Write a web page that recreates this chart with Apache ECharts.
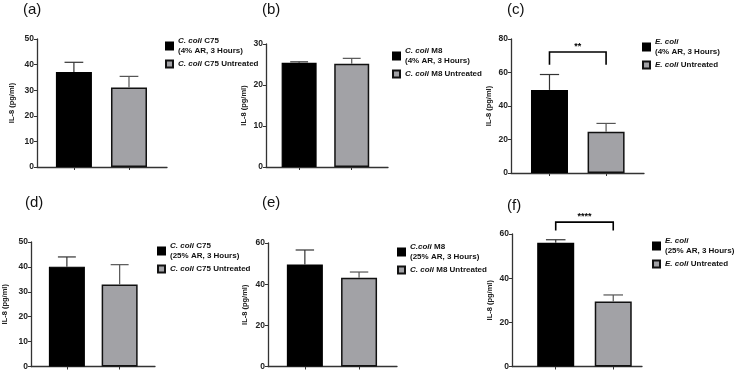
<!DOCTYPE html>
<html>
<head>
<meta charset="utf-8">
<script src="https://cdn.jsdelivr.net/npm/echarts@6/dist/echarts.min.js"></script>
<style>
  html, body { margin: 0; padding: 0; background: #fff; }
  #chart { width: 735px; height: 371px; }
</style>
</head>
<body>
<div id="chart"></div>
<script>
// values, one entry per panel (a)..(f)
var panelTags = ['(a)', '(b)', '(c)', '(d)', '(e)', '(f)'];
var treatedNames = [
    'C. coli C75\n(4% AR, 3 Hours)',
    'C. coli M8\n(4% AR, 3 Hours)',
    'E. coli\n(4% AR, 3 Hours)',
    'C. coli C75\n(25% AR, 3 Hours)',
    'C.coli M8\n(25% AR, 3 Hours)',
    'E. coli\n(25% AR, 3 Hours)'
];
var untreatedNames = [
    'C. coli C75 Untreated',
    'C. coli M8 Untreated',
    'E. coli Untreated',
    'C. coli C75 Untreated',
    'C. coli M8 Untreated',
    'E. coli Untreated'
];
var treatedMean = [37.1, 25.4, 49.6, 40.1, 49.6, 56.0];
var treatedErr = [3.8, 0.25, 9.2, 3.9, 7.0, 1.4];
var untreatedMean = [31.1, 25.2, 24.6, 32.9, 43.1, 29.4];
var untreatedErr = [4.3, 1.3, 5.0, 8.0, 2.8, 3.0];
var yMax = [50, 30, 80, 50, 60, 60];
var yStep = [10, 10, 20, 10, 20, 20];
var sigMarks = ['', '', '**', '', '', '****'];
var sigTop = [0, 0, 72.2, 0, 0, 65.4];
var sigLeg = [0, 0, 64.6, 0, 0, 61.6];

// layout of each panel, in pixels
var panels = [
    {left: 37,  top: 39,  width: 130, height: 128, xMin: 0.33, xMax: 2.69, barW: 36, gap: 21, lgLeft: 165, lgTop: 36,  tagX: 23,  tagY: 2},
    {left: 266, top: 44,  width: 122, height: 123, xMin: 0.37, xMax: 2.69, barW: 35, gap: 18, lgLeft: 392, lgTop: 46,  tagX: 262, tagY: 2},
    {left: 511, top: 39,  width: 133, height: 134, xMin: 0.32, xMax: 2.67, barW: 37, gap: 18, lgLeft: 642, lgTop: 37,  tagX: 507, tagY: 2},
    {left: 30,  top: 242, width: 125, height: 125, xMin: 0.32, xMax: 2.67, barW: 36, gap: 22, lgLeft: 157, lgTop: 241, tagX: 25,  tagY: 195},
    {left: 268, top: 243, width: 129, height: 125, xMin: 0.32, xMax: 2.70, barW: 36, gap: 19, lgLeft: 397, lgTop: 242, tagX: 262, tagY: 195},
    {left: 512, top: 234, width: 130, height: 134, xMin: 0.24, xMax: 2.50, barW: 37, gap: 18, lgLeft: 652, lgTop: 236, tagX: 507, tagY: 198}
];

var FONT = '"Liberation Sans", Arial, sans-serif';
var BLACK_BAR = '#000000';
var GRAY_BAR = '#a2a2a6';

function errorBarItem(params, api) {
    var x = api.value(0), m = api.value(1), e = api.value(2);
    var base = api.coord([x, m]);
    var top = api.coord([x, m + e]);
    var half = api.size([1, 0])[0] * 0.17;
    var style = {stroke: api.value(3) ? '#555' : '#333', lineWidth: 1.2};
    return {
        type: 'group',
        children: [
            {type: 'line', shape: {x1: base[0], y1: base[1], x2: top[0], y2: top[1]}, style: style},
            {type: 'line', shape: {x1: top[0] - half, y1: top[1], x2: top[0] + half, y2: top[1]}, style: style}
        ]
    };
}

function bracketItem(params, api) {
    var p1 = api.coord([api.value(0), api.value(3)]);
    var p2 = api.coord([api.value(0), api.value(2)]);
    var p3 = api.coord([api.value(1), api.value(2)]);
    var p4 = api.coord([api.value(1), api.value(3)]);
    return {
        type: 'group',
        children: [
            {type: 'polyline', shape: {points: [p1, p2, p3, p4]},
             style: {stroke: '#000', lineWidth: 1.6, fill: null}},
            {type: 'text', x: (p2[0] + p3[0]) / 2, y: p2[1] - 1,
             style: {text: sigMarks[api.value(4)],
                     font: 'bold 9px ' + FONT, fill: '#000', align: 'center', verticalAlign: 'bottom'}}
        ]
    };
}

function legendLabel(name) {
    return name.replace(/^(C\. coli|C\.coli|E\. coli)/, '{i|$1}');
}

var grids = [], xAxes = [], yAxes = [], legends = [], series = [], graphics = [];

for (var i = 0; i < panels.length; i++) {
    var p = panels[i];
    grids.push({left: p.left, top: p.top, width: p.width, height: p.height});
    xAxes.push({
        type: 'value', gridIndex: i, min: p.xMin, max: p.xMax,
        splitLine: {show: false},
        axisLine: {show: true, lineStyle: {color: '#333', width: 1.3}},
        axisTick: {show: true, customValues: [1, 2], length: 3, lineStyle: {color: '#333'}},
        axisLabel: {show: false}
    });
    yAxes.push({
        type: 'value', gridIndex: i, min: 0, max: yMax[i], interval: yStep[i],
        name: 'IL-8 (pg/ml)', nameLocation: 'middle', nameGap: p.gap,
        nameTextStyle: {fontFamily: FONT, fontWeight: 'bold', fontSize: 7.5, color: '#222'},
        splitLine: {show: false},
        axisLine: {show: true, lineStyle: {color: '#333', width: 1.3}},
        axisTick: {show: true, length: 3, lineStyle: {color: '#333'}},
        axisLabel: {fontFamily: FONT, fontWeight: 'bold', fontSize: 8.5, color: '#222', margin: 3}
    });
    legends.push({
        data: [treatedNames[i], untreatedNames[i]],
        orient: 'vertical', left: p.lgLeft, top: p.lgTop, padding: 0,
        itemWidth: 7, itemHeight: 7, itemGap: 3, icon: 'rect', selectedMode: false,
        formatter: legendLabel,
        textStyle: {
            fontFamily: FONT, fontWeight: 'bold', fontSize: 8, color: '#111', lineHeight: 10,
            rich: {i: {fontFamily: FONT, fontWeight: 'bold', fontStyle: 'italic', fontSize: 8, color: '#111', lineHeight: 10}}
        }
    });
    series.push({
        name: treatedNames[i], type: 'bar', xAxisIndex: i, yAxisIndex: i,
        barWidth: p.barW, barGap: '-100%',
        itemStyle: {color: BLACK_BAR, borderColor: '#000', borderWidth: 1.2},
        data: [[1, treatedMean[i]]]
    });
    series.push({
        name: untreatedNames[i], type: 'bar', xAxisIndex: i, yAxisIndex: i,
        barWidth: p.barW, barGap: '-100%',
        itemStyle: {color: GRAY_BAR, borderColor: '#111', borderWidth: 1.5},
        data: [[2, untreatedMean[i]]]
    });
    series.push({
        type: 'custom', xAxisIndex: i, yAxisIndex: i, z: 3,
        renderItem: errorBarItem,
        data: [[1, treatedMean[i], treatedErr[i], 0], [2, untreatedMean[i], untreatedErr[i], 1]]
    });
    if (sigMarks[i]) {
        series.push({
            type: 'custom', xAxisIndex: i, yAxisIndex: i, clip: false, z: 4,
            renderItem: bracketItem,
            encode: {x: [0, 1], y: [2, 3]},
            data: [[1, 2, sigTop[i], sigLeg[i], i]]
        });
    }
    graphics.push({
        type: 'text', left: p.tagX, top: p.tagY,
        style: {text: panelTags[i], font: '15px ' + FONT, fill: '#111'}
    });
}

var chart = echarts.init(document.getElementById('chart'));
chart.setOption({
    animation: false,
    backgroundColor: '#ffffff',
    grid: grids,
    xAxis: xAxes,
    yAxis: yAxes,
    legend: legends,
    graphic: graphics,
    series: series
});
</script>
</body>
</html>
